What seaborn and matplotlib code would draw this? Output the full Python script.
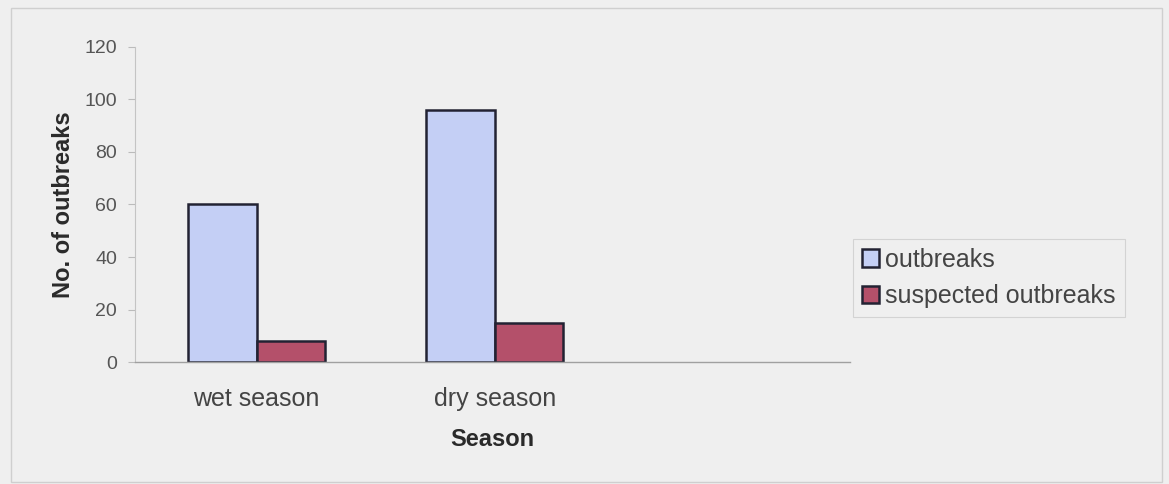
import matplotlib
matplotlib.use("Agg")
import matplotlib.pyplot as plt
import seaborn as sns
import pandas as pd
from matplotlib.patches import Rectangle

# Outbreak counts by season
seasons = ["wet season", "dry season"]
series_names = ["outbreaks", "suspected outbreaks"]
outbreaks = [60, 96]
suspected = [8, 15]
y_ticks = [0, 20, 40, 60, 80, 100, 120]

df = pd.DataFrame({
    "Season": seasons * 2,
    "Type": [series_names[0]] * 2 + [series_names[1]] * 2,
    "Count": outbreaks + suspected,
})

sns.set_theme(style="white")
plt.rcParams["font.family"] = ["Liberation Sans", "DejaVu Sans"]

bg = "#efefef"
fig = plt.figure(figsize=(11.69, 4.84), dpi=100, facecolor=bg)
ax = fig.add_axes([0.1155, 0.252, 0.6116, 0.651])
ax.set_facecolor(bg)

palette = {series_names[0]: "#c4cff5", series_names[1]: "#b4506a"}
sns.barplot(data=df, x="Season", y="Count", hue="Type", order=seasons,
            hue_order=series_names, palette=palette, width=0.575, gap=0,
            edgecolor="#222233", linewidth=1.8, saturation=1, ax=ax)

ax.set_xlim(-0.51, 2.49)
ax.set_ylim(0, 120)
ax.set_yticks(y_ticks)
ax.set_yticklabels([str(t) for t in y_ticks], fontsize=14, color="#555555")
ax.set_xticks([0, 1])
ax.set_xticklabels(seasons, fontsize=18, color="#444444")
ax.tick_params(axis="y", length=5, width=0.8, color="#bbbbbb", pad=8, left=True)
ax.tick_params(axis="x", length=0, pad=18)

for side in ["top", "right"]:
    ax.spines[side].set_visible(False)
ax.spines["left"].set_color("#c4c4c4")
ax.spines["left"].set_linewidth(0.8)
ax.spines["bottom"].set_color("#a0a0a0")
ax.spines["bottom"].set_linewidth(1.0)

ax.set_ylabel("No. of outbreaks", fontsize=17, fontweight="bold", color="#2a2a2a", labelpad=7)
ax.set_xlabel("Season", fontsize=17, fontweight="bold", color="#2a2a2a", labelpad=12)

handles, labels = ax.get_legend_handles_labels()
leg = ax.legend(handles, labels, loc="center left", bbox_to_anchor=(1.004, 0.267),
                fontsize=18, frameon=True, fancybox=False, handlelength=0.7,
                handleheight=0.7, handletextpad=0.25, borderpad=0.35,
                labelspacing=0.5, borderaxespad=0)
leg.get_frame().set_edgecolor("#cccccc")
leg.get_frame().set_facecolor(bg)
leg.get_frame().set_linewidth(0.8)
for t in leg.get_texts():
    t.set_color("#444444")

# outer chart border
fig.patches.append(Rectangle((0.009, 0.005), 0.985, 0.978, transform=fig.transFigure,
                             fill=False, edgecolor="#cfcfcf", linewidth=1.0))

fig.savefig("out.png", dpi=100, facecolor=bg)
